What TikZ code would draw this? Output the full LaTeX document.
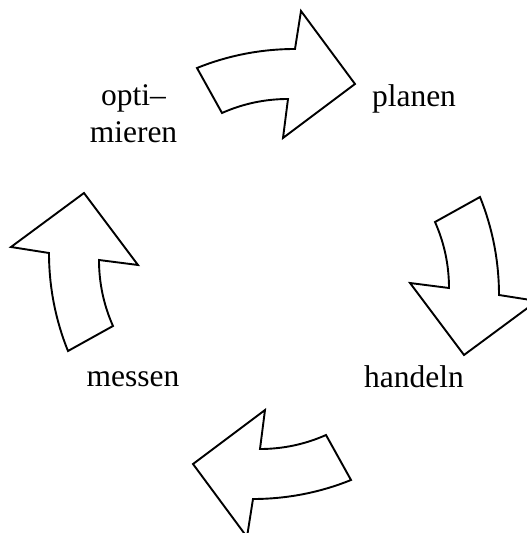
\documentclass[tikz,border=0pt]{standalone}
\usepackage{fontspec}
\setmainfont{Liberation Serif}
\tikzset{
  cyclearrow/.style={draw=black, fill=white, line width=1.9pt, line join=miter},
  lbl/.style={font=\fontsize{31.5}{37}\selectfont, inner sep=0pt, anchor=base, align=center}
}
\begin{document}
\begin{tikzpicture}[x=1pt,y=1pt]
  \useasboundingbox (-274,-259) rectangle (253,274);
  \clip (-274,-259) rectangle (253,274);
  \foreach \r in {0,-90,-180,-270}{
    \draw[cyclearrow, rotate=\r]
      (-77,206) .. controls (-45.8,218.6) and (-12.6,225) .. (21,225)
      -- (27,263) -- (81,190) -- (9,136) -- (14,175)
      .. controls (-8.8,175) and (-31.2,170.3) .. (-52,161) -- cycle;
  }
  \node[lbl] (planen) at (140,167) {planen};
  \node[lbl] (handeln) at (140,-113) {handeln};
  \node[lbl] (messen) at (-141,-112) {messen};
  \node[lbl] (opti) at (-140.5,131) {opti–\\mieren};
\end{tikzpicture}
\end{document}
